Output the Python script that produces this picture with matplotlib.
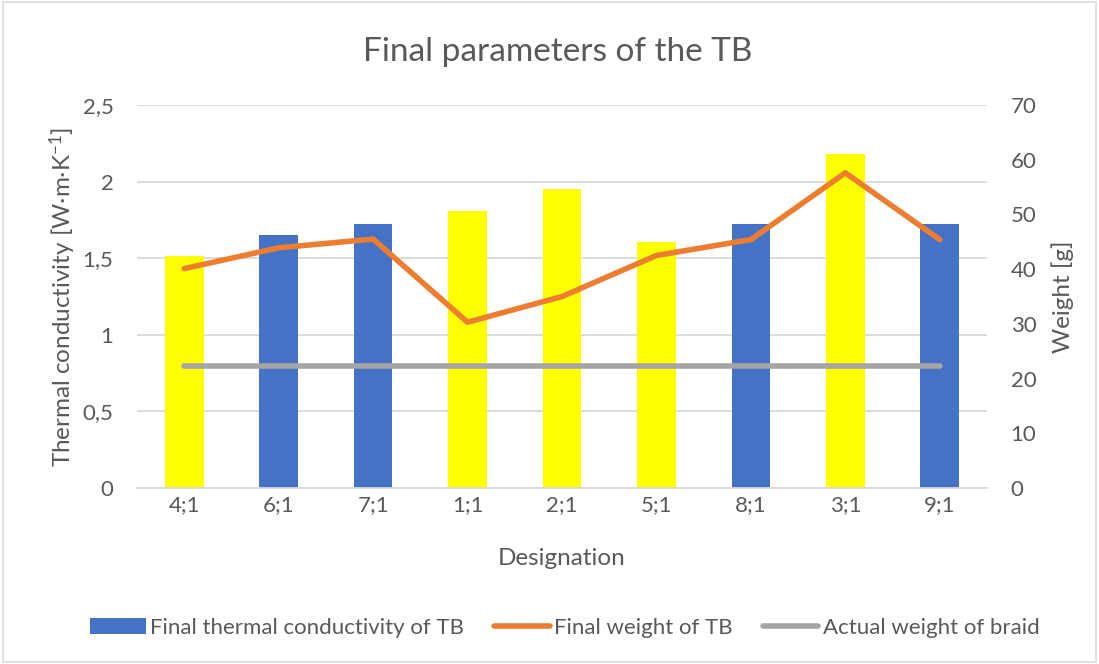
import matplotlib
matplotlib.use("Agg")
import matplotlib.pyplot as plt
from matplotlib.patches import Rectangle
from matplotlib.lines import Line2D
from matplotlib.patches import Patch

plt.rcParams['font.family'] = ['Lato', 'DejaVu Sans']
plt.rcParams['mathtext.fontset'] = 'custom'
plt.rcParams['mathtext.rm'] = 'Lato'
plt.rcParams['mathtext.it'] = 'Lato:italic'

categories = ["4;1", "6;1", "7;1", "1;1", "2;1", "5;1", "8;1", "3;1", "9;1"]
conductivity = [1.517, 1.652, 1.72, 1.81, 1.954, 1.609, 1.72, 2.183, 1.72]
bar_colors = ["#FFFF00", "#4472C4", "#4472C4", "#FFFF00", "#FFFF00", "#FFFF00", "#4472C4", "#FFFF00", "#4472C4"]
final_weight = [40.1, 43.9, 45.5, 30.3, 35.0, 42.5, 45.4, 57.6, 45.4]
braid_weight = [22.3] * 9
left_ticks = [0, 0.5, 1, 1.5, 2, 2.5]
left_labels = ["0", "0,5", "1", "1,5", "2", "2,5"]
right_ticks = [0, 10, 20, 30, 40, 50, 60, 70]

txt = "#595959"
fig = plt.figure(figsize=(10.99, 6.64), dpi=100)
ax = fig.add_axes([137/1099, 1-488/664, (987-137)/1099, (488-105)/664])
x = list(range(len(categories)))
ax.bar(x, conductivity, width=0.41, color=bar_colors, zorder=2)
ax.set_ylim(0, 2.5)
ax.set_xlim(-0.5, len(categories)-0.5)
ax.set_yticks(left_ticks)
ax.set_yticklabels(left_labels)
ax.set_xticks(x)
ax.set_xticklabels(categories)
ax.grid(axis='y', color='#D9D9D9', linewidth=1.3, zorder=0)
for s in ax.spines.values():
    s.set_visible(False)
ax.spines['bottom'].set_visible(True)
ax.spines['bottom'].set_color('#D9D9D9')
ax.spines['bottom'].set_linewidth(1.3)
ax.tick_params(axis='y', length=0, labelsize=16, colors=txt, pad=17)
ax.tick_params(axis='x', length=0, labelsize=16, colors=txt, pad=5)
ax.set_ylabel(r"Thermal conductivity [W·m·K$^{-1}$]", fontsize=17.5, color=txt, labelpad=3)
ax.set_xlabel("Designation", fontsize=17.5, color=txt, labelpad=24)

ax2 = ax.twinx()
ax2.plot(x, final_weight, color="#ED7D31", linewidth=4, solid_capstyle='round', solid_joinstyle='round', zorder=3)
ax2.plot(x, braid_weight, color="#A5A5A5", linewidth=4, solid_capstyle='round', zorder=3)
ax2.set_ylim(0, 70)
ax2.set_yticks(right_ticks)
for s in ax2.spines.values():
    s.set_visible(False)
ax2.tick_params(axis='y', length=0, labelsize=16, colors=txt, pad=17)
ax2.set_ylabel("Weight [g]", fontsize=17.5, color=txt, labelpad=11)

fig.text(558/1099, 1-52/664, "Final parameters of the TB", ha='center', va='center', fontsize=24, color=txt)

handles = [Patch(facecolor="#4472C4", edgecolor="none"),
           Line2D([0], [0], color="#ED7D31", linewidth=4, solid_capstyle='round'),
           Line2D([0], [0], color="#A5A5A5", linewidth=4, solid_capstyle='round')]
labels = ["Final thermal conductivity of TB", "Final weight of TB", "Actual weight of braid"]
leg = fig.legend(handles, labels, loc='center', bbox_to_anchor=(565/1099, 1-628/664), ncol=3,
                 frameon=False, fontsize=16, handlelength=2.5, handletextpad=0.2, columnspacing=1.35)
for t in leg.get_texts():
    t.set_color(txt)

fig.add_artist(Rectangle((0.003, 0.003), 0.994, 0.994, transform=fig.transFigure, fill=False,
                         edgecolor='#D9D9D9', linewidth=1.2))
fig.savefig("out.png", dpi=100)
